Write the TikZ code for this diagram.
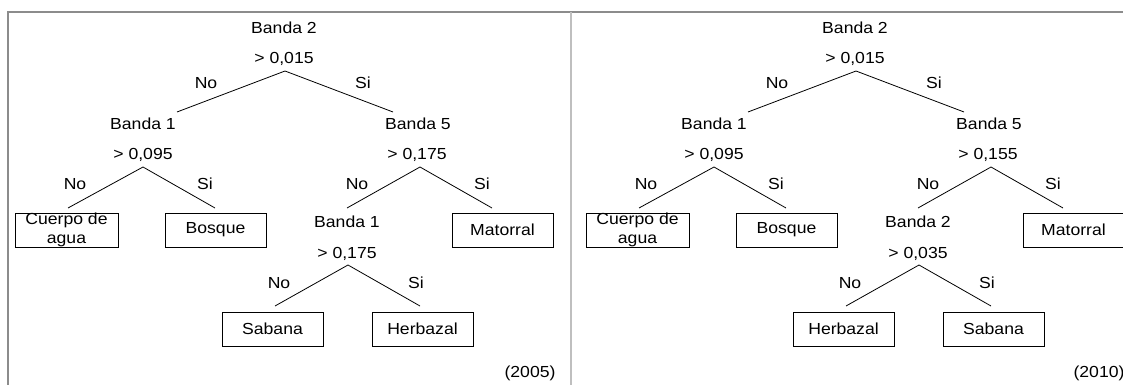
\documentclass[tikz,border=0pt]{standalone}
\usepackage{fontspec}
\setmainfont{Liberation Sans}[FakeStretch=1.1]
\begin{document}
\begin{tikzpicture}[x=1pt,y=-1pt,
          txt/.style={font=\fontsize{16}{19}\selectfont,inner sep=0pt},
          hoja/.style={draw,line width=0.8pt,minimum width=101pt,minimum height=34pt,
            inner sep=0pt,align=center,font=\fontsize{16}{19}\selectfont},
          rama/.style={line width=0.8pt},
          marco/.style={draw=black!45,line width=1.2pt},
          sep/.style={draw=black!25,line width=2.5pt}
          ]
          \useasboundingbox (0,0) rectangle (1123,385);
          \draw[marco] (8,385) -- (8,12) -- (1123,12);
          \draw[sep] (571,12) -- (571,385);
          % arbol 2005
          \node[txt] (a-r)  at (284,28) {Banda 2};
          \node[txt] (a-ru) at (284,59) {> 0,015};
          \coordinate (a-rv) at (285,71);
          \coordinate (a-ri) at (177,112);
          \coordinate (a-rd) at (393,112);
          \draw[rama] (a-ri) -- (a-rv) -- (a-rd);
          \node[txt] (a-rno) at (206,83) {No};
          \node[txt] (a-rsi) at (363,83) {Si};
          \node[txt] (a-b1)  at (143,124) {Banda 1};
          \node[txt] (a-b1u) at (143,155) {> 0,095};
          \coordinate (a-b1v) at (143,167);
          \coordinate (a-b1i) at (68,208);
          \coordinate (a-b1d) at (215,208);
          \draw[rama] (a-b1i) -- (a-b1v) -- (a-b1d);
          \node[txt] (a-b1no) at (75,184) {No};
          \node[txt] (a-b1si) at (205,184) {Si};
          \node[hoja,minimum width=103pt] (a-agua) at (66.5,230) {Cuerpo de\\agua};
          \node[hoja] (a-bosque) at (215.5,230) {Bosque};
          \node[txt] (a-b5)  at (418,124) {Banda 5};
          \node[txt] (a-b5u) at (417,155) {> 0,175};
          \coordinate (a-b5v) at (420,167);
          \coordinate (a-b5i) at (347,208);
          \coordinate (a-b5d) at (492,208);
          \draw[rama] (a-b5i) -- (a-b5v) -- (a-b5d);
          \node[txt] (a-b5no) at (357,184) {No};
          \node[txt] (a-b5si) at (482,184) {Si};
          \node[hoja] (a-mat) at (502.5,230) {Matorral};
          \node[txt] (a-s)  at (347,222) {Banda 1};
          \node[txt] (a-su) at (347,254) {> 0,175};
          \coordinate (a-sv) at (348,265);
          \coordinate (a-si) at (275,306);
          \coordinate (a-sd) at (420,306);
          \draw[rama] (a-si) -- (a-sv) -- (a-sd);
          \node[txt] (a-sno) at (279,283) {No};
          \node[txt] (a-ssi) at (416,283) {Si};
          \node[hoja] (a-sab) at (272.5,329) {Sabana};
          \node[hoja] (a-her) at (422.5,329) {Herbazal};
          \node[txt] (a-anio) at (530,373) {(2005)};
          % arbol 2010
          \begin{scope}[xshift=571pt]
          \node[txt] (b-r)  at (284,28) {Banda 2};
          \node[txt] (b-ru) at (284,59) {> 0,015};
          \coordinate (b-rv) at (285,71);
          \coordinate (b-ri) at (177,112);
          \coordinate (b-rd) at (393,112);
          \draw[rama] (b-ri) -- (b-rv) -- (b-rd);
          \node[txt] (b-rno) at (206,83) {No};
          \node[txt] (b-rsi) at (363,83) {Si};
          \node[txt] (b-b1)  at (143,124) {Banda 1};
          \node[txt] (b-b1u) at (143,155) {> 0,095};
          \coordinate (b-b1v) at (143,167);
          \coordinate (b-b1i) at (68,208);
          \coordinate (b-b1d) at (215,208);
          \draw[rama] (b-b1i) -- (b-b1v) -- (b-b1d);
          \node[txt] (b-b1no) at (75,184) {No};
          \node[txt] (b-b1si) at (205,184) {Si};
          \node[hoja,minimum width=103pt] (b-agua) at (66.5,230) {Cuerpo de\\agua};
          \node[hoja] (b-bosque) at (215.5,230) {Bosque};
          \node[txt] (b-b5)  at (418,124) {Banda 5};
          \node[txt] (b-b5u) at (417,155) {> 0,155};
          \coordinate (b-b5v) at (420,167);
          \coordinate (b-b5i) at (347,208);
          \coordinate (b-b5d) at (492,208);
          \draw[rama] (b-b5i) -- (b-b5v) -- (b-b5d);
          \node[txt] (b-b5no) at (357,184) {No};
          \node[txt] (b-b5si) at (482,184) {Si};
          \node[hoja] (b-mat) at (502.5,230) {Matorral};
          \node[txt] (b-s)  at (347,222) {Banda 2};
          \node[txt] (b-su) at (347,254) {> 0,035};
          \coordinate (b-sv) at (348,265);
          \coordinate (b-si) at (275,306);
          \coordinate (b-sd) at (420,306);
          \draw[rama] (b-si) -- (b-sv) -- (b-sd);
          \node[txt] (b-sno) at (279,283) {No};
          \node[txt] (b-ssi) at (416,283) {Si};
          \node[hoja] (b-her) at (272.5,329) {Herbazal};
          \node[hoja] (b-sab) at (422.5,329) {Sabana};
          \node[txt] (b-anio) at (528,373) {(2010)};
          \end{scope}
        \end{tikzpicture}
\end{document}
